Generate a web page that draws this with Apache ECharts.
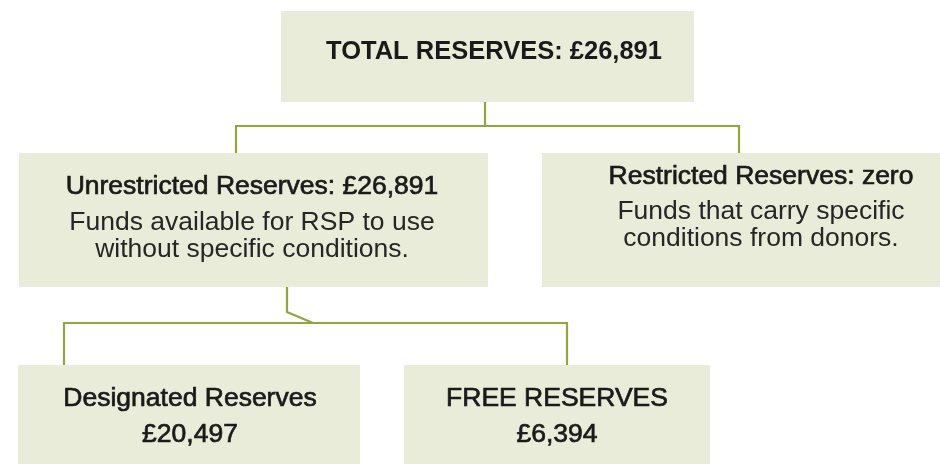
<!DOCTYPE html>
<html>
<head>
<meta charset="utf-8">
<script src="https://cdn.jsdelivr.net/npm/echarts@6/dist/echarts.min.js"></script>
<style>
  html, body { margin: 0; padding: 0; background: #ffffff; }
  #chart { width: 940px; height: 464px; }
</style>
</head>
<body>
<div id="chart"></div>
<script>
// ---- data ----
const nodeNames = ['TOTAL RESERVES', 'Unrestricted Reserves', 'Restricted Reserves', 'Designated Reserves', 'FREE RESERVES'];
const nodeValues = ['£26,891', '£26,891', 'zero', '£20,497', '£6,394'];
const nodeNotes = [
  [],
  ['Funds available for RSP to use', 'without specific conditions.'],
  ['Funds that carry specific', 'conditions from donors.'],
  [],
  []
];
const nodeParents = [-1, 0, 0, 1, 1];

// ---- layout (pixel-space data coordinates of the hidden axes) ----
const boxRects = [
  [281, 11, 694, 102],
  [19, 153, 488, 287],
  [542, 153, 940, 287],
  [18, 365, 360, 464],
  [404, 365, 710, 464]
];
const textCenterX = [494, 252, 761, 190, 557];
const textLinesY = [
  [52],
  [187, 223, 250],
  [177, 212, 239],
  [399, 435],
  [399, 435]
];
// elbow connector from each parent (index) to its children
const connectorParent = [0, 1];
const connectorPaths = [
  [[[485, 102], [485, 126]], [[236, 153], [236, 126], [739, 126], [739, 153]]],
  [[[287, 287], [287, 312], [313, 323]], [[64, 365], [64, 323], [567, 323], [567, 365]]]
];

const BOX_FILL = '#eaecda';
const LINE_COLOR = '#94a63b';
const TEXT_COLOR = '#1a1a1a';
const FONT = "'Liberation Sans', Arial, Helvetica, sans-serif";

function nodeLines(i) {
  const level = nodeParents[i] === -1 ? 0 : (nodeParents[nodeParents[i]] === -1 ? 1 : 2);
  if (level === 0) return [{ t: nodeNames[i] + ': ' + nodeValues[i], kind: 'title' }];
  if (level === 1) {
    return [{ t: nodeNames[i] + ': ' + nodeValues[i], kind: 'head' }]
      .concat(nodeNotes[i].map(s => ({ t: s, kind: 'body' })));
  }
  return [{ t: nodeNames[i], kind: 'head' }, { t: nodeValues[i], kind: 'head' }];
}

const chart = echarts.init(document.getElementById('chart'), null, { renderer: 'canvas' });

chart.setOption({
  animation: false,
  backgroundColor: '#ffffff',
  grid: { left: 0, right: 0, top: 0, bottom: 0 },
  xAxis: { type: 'value', min: 0, max: 940, show: false },
  yAxis: { type: 'value', min: 0, max: 464, inverse: true, show: false },
  series: [
    {
      type: 'custom',
      name: 'connectors',
      coordinateSystem: 'cartesian2d',
      data: connectorParent.map((p, k) => [k, p]),
      renderItem: function (params, api) {
        const k = api.value(0);
        const paths = connectorPaths[k];
        return {
          type: 'group',
          children: paths.map(path => ({
            type: 'polyline',
            shape: { points: path.map(pt => api.coord(pt)) },
            style: { stroke: LINE_COLOR, lineWidth: 2.2, fill: null, lineJoin: 'miter' }
          }))
        };
      },
      z: 1
    },
    {
      type: 'custom',
      name: 'boxes',
      coordinateSystem: 'cartesian2d',
      data: nodeNames.map((n, i) => [i]),
      renderItem: function (params, api) {
        const i = api.value(0);
        const r = boxRects[i];
        const p0 = api.coord([r[0], r[1]]);
        const p1 = api.coord([r[2], r[3]]);
        const children = [{
          type: 'rect',
          shape: { x: p0[0], y: p0[1], width: p1[0] - p0[0], height: p1[1] - p0[1] },
          style: { fill: BOX_FILL }
        }];
        const lines = nodeLines(i);
        lines.forEach((ln, j) => {
          const c = api.coord([textCenterX[i], textLinesY[i][j]]);
          const st = {
            text: ln.t,
            x: c[0],
            y: c[1],
            align: 'center',
            verticalAlign: 'middle',
            fill: TEXT_COLOR
          };
          if (ln.kind === 'title') {
            st.font = 'bold 25.5px ' + FONT;
          } else if (ln.kind === 'head') {
            st.font = '26.5px ' + FONT;
            st.stroke = TEXT_COLOR;
            st.lineWidth = 0.7;
          } else {
            st.font = '26.5px ' + FONT;
            st.fill = '#262626';
          }
          children.push({ type: 'text', style: st, z2: 10 });
        });
        return { type: 'group', children: children };
      },
      z: 2
    }
  ]
});
</script>
</body>
</html>
